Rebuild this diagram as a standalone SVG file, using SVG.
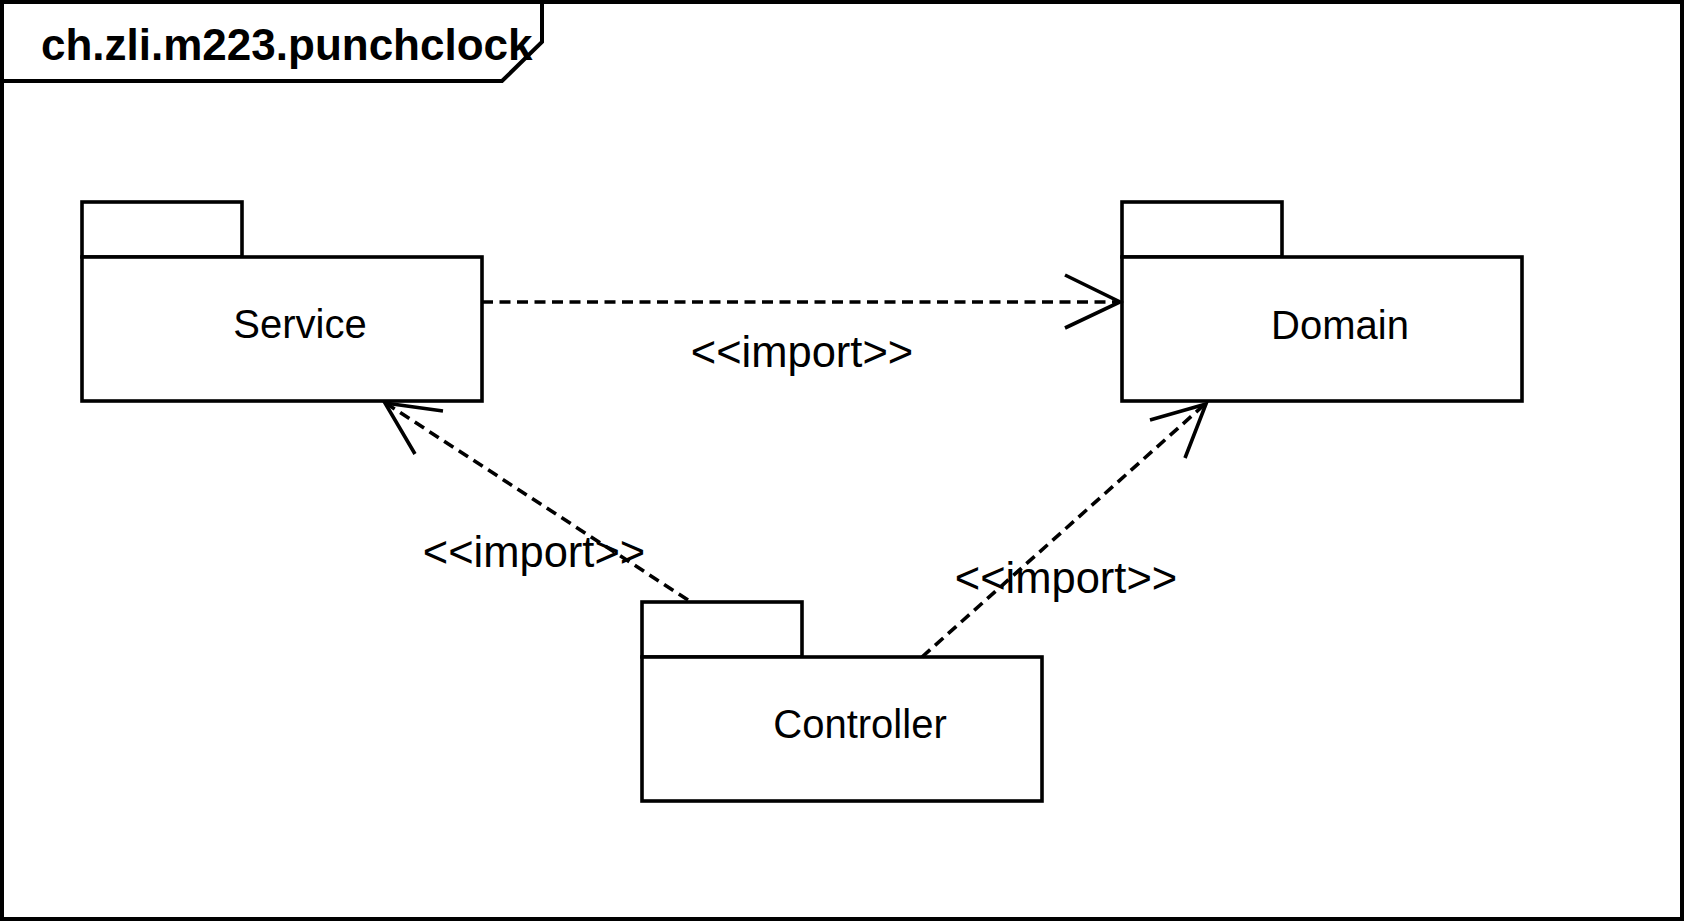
<svg xmlns="http://www.w3.org/2000/svg" width="1684" height="924" viewBox="0 0 1684 924">
<style>
.ln{fill:none;stroke:#000;stroke-width:3.6;}
.bx{fill:#fff;stroke:#000;stroke-width:3.6;}
.dash{fill:none;stroke:#000;stroke-width:3.6;stroke-dasharray:11 6.5;}
.lbl{font-family:"Liberation Sans",Arial,sans-serif;font-size:40px;fill:#000;text-anchor:middle;}
.edge{font-family:"Liberation Sans",Arial,sans-serif;font-size:43.5px;fill:#000;text-anchor:middle;}
.title{font-family:"Liberation Sans",Arial,sans-serif;font-size:44px;font-weight:bold;fill:#000;}
</style>
<rect width="1684" height="924" fill="#fff"/>
<g id="frame">
<rect x="2" y="2" width="1680" height="917" class="ln" style="stroke-width:4"/>
<path d="M2,81 H502 L542,42 V2" class="ln" style="stroke-width:4"/>
<text x="41" y="60" class="title">ch.zli.m223.punchclock</text>
</g>
<g id="service">
<rect x="82" y="202" width="160" height="55" class="bx"/>
<rect x="82" y="257" width="400" height="144" class="bx"/>
<text x="300" y="338" class="lbl">Service</text>
</g>
<g id="domain">
<rect x="1122" y="202" width="160" height="55" class="bx"/>
<rect x="1122" y="257" width="400" height="144" class="bx"/>
<text x="1340" y="339" class="lbl">Domain</text>
</g>
<g id="controller">
<rect x="642" y="602" width="160" height="55" class="bx"/>
<rect x="642" y="657" width="400" height="144" class="bx"/>
<text x="860" y="738" class="lbl">Controller</text>
</g>
<g id="connectors">
<path d="M482,302 H1119" class="dash"/>
<path d="M1065,275 L1120,302 L1065,328" class="ln"/>
<text x="802" y="367" class="edge">&lt;&lt;import&gt;&gt;</text>
<path d="M688,600 L387,404" class="dash"/>
<path d="M443,411 L385,403 L415,454" class="ln"/>
<text x="534" y="567" class="edge">&lt;&lt;import&gt;&gt;</text>
<path d="M922,657 L1204,405" class="dash"/>
<path d="M1150,420 L1206,404 L1185,458" class="ln"/>
<text x="1066" y="593" class="edge">&lt;&lt;import&gt;&gt;</text>
</g>
</svg>
